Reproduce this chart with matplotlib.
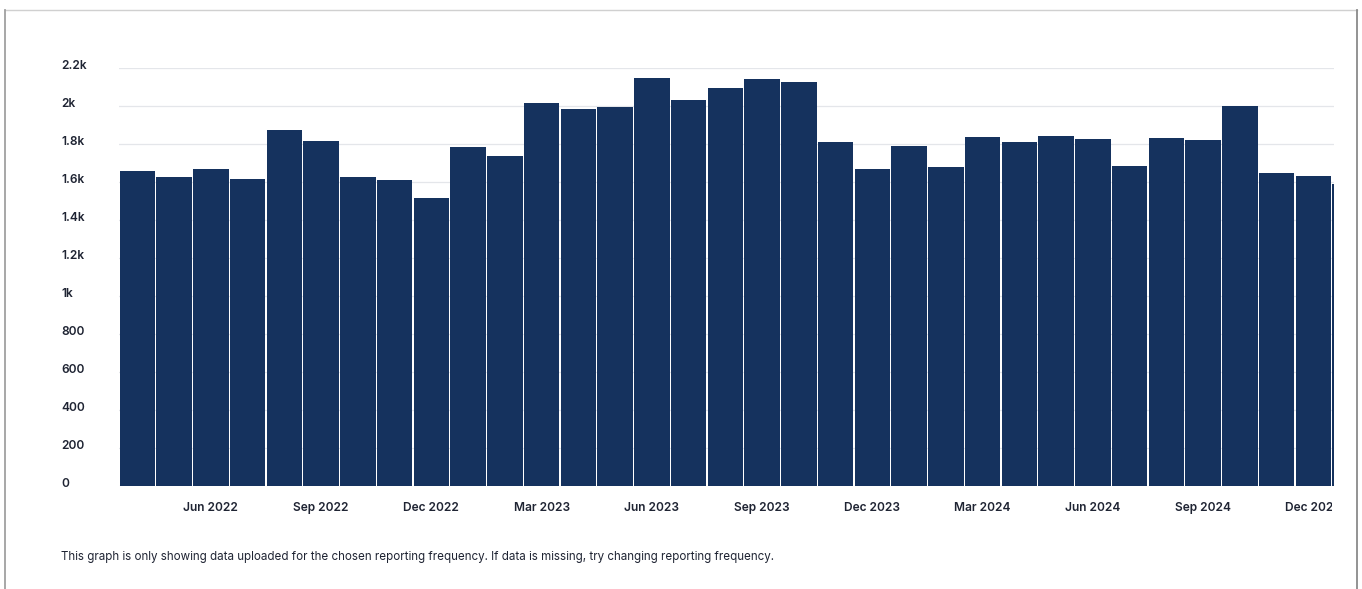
import matplotlib
matplotlib.use("Agg")
import matplotlib.pyplot as plt
from matplotlib.patches import Rectangle
from matplotlib.lines import Line2D
from matplotlib.transforms import Bbox, ScaledTranslation

plt.rcParams['font.family'] = ['Inter', 'DejaVu Sans']

months = ["Apr 2022", "May 2022", "Jun 2022", "Jul 2022", "Aug 2022", "Sep 2022",
          "Oct 2022", "Nov 2022", "Dec 2022", "Jan 2023", "Feb 2023", "Mar 2023",
          "Apr 2023", "May 2023", "Jun 2023", "Jul 2023", "Aug 2023", "Sep 2023",
          "Oct 2023", "Nov 2023", "Dec 2023", "Jan 2024", "Feb 2024", "Mar 2024",
          "Apr 2024", "May 2024", "Jun 2024", "Jul 2024", "Aug 2024", "Sep 2024",
          "Oct 2024", "Nov 2024", "Dec 2024", "Jan 2025"]
values = [1658, 1629, 1670, 1616, 1874, 1819, 1628, 1612, 1516, 1786, 1740, 2019,
          1987, 1998, 2151, 2032, 2096, 2145, 2129, 1814, 1670, 1791, 1679, 1837,
          1811, 1842, 1828, 1687, 1831, 1821, 2003, 1647, 1632, 1591]
tick_months = ["Jun 2022", "Sep 2022", "Dec 2022", "Mar 2023", "Jun 2023", "Sep 2023",
               "Dec 2023", "Mar 2024", "Jun 2024", "Sep 2024", "Dec 2024"]
y_ticks = [0, 200, 400, 600, 800, 1000, 1200, 1400, 1600, 1800, 2000, 2200]
y_labels = ["0", "200", "400", "600", "800", "1k", "1.2k", "1.4k", "1.6k", "1.8k", "2k", "2.2k"]

W, H = 1362, 589
fig = plt.figure(figsize=(W / 100, H / 100), dpi=100)
fig.patch.set_facecolor("white")

left_px, right_px, top_px, base_px = 119, 1334, 68.3, 485.8
ax = fig.add_axes([left_px / W, 1 - base_px / H, (right_px - left_px) / W, (base_px - top_px) / H])

bar_color = "#15325e"
x = list(range(len(values)))
ax.bar(x, values, width=0.97, color=bar_color, zorder=2)

ax.set_xlim(-0.5, 32.56)
ax.set_ylim(0, 2200)

ax.set_yticks(y_ticks)
ax.set_yticklabels(y_labels)
ax.set_xticks([months.index(m) for m in tick_months])
ax.set_xticklabels(tick_months)

ax.grid(axis="y", color="#e4e6ea", linewidth=0.9, zorder=0)
ax.grid(axis="x", visible=False)
for s in ax.spines.values():
    s.set_visible(False)

text_color = "#1f2433"
ax.tick_params(axis="y", length=0, pad=41.8, labelsize=8.6, labelcolor=text_color)
ax.tick_params(axis="x", length=0, pad=12, labelsize=8.6, labelcolor=text_color)
for lab in ax.get_yticklabels():
    lab.set_horizontalalignment("left")
    lab.set_fontweight("semibold")
    lab.set_transform(lab.get_transform() + ScaledTranslation(0, 3.5 / 100, fig.dpi_scale_trans))

clip = Bbox.from_extents(0, 0, 1332, H)
for lab in ax.get_xticklabels():
    lab.set_fontweight("semibold")
    lab.set_clip_on(True)
    lab.set_clip_box(clip)

fig.text(61 / W, 1 - 557 / H,
         "This graph is only showing data uploaded for the chosen reporting frequency. "
         "If data is missing, try changing reporting frequency.",
         fontsize=8.35, color=text_color, ha="left", va="center")

# card border: light top, grey sides
fig.lines.append(Line2D([5 / W, 1357 / W], [1 - 10 / H, 1 - 10 / H], transform=fig.transFigure,
                        color="#d0d0d0", linewidth=1.0))
fig.lines.append(Line2D([5 / W, 5 / W], [0, 1 - 10 / H], transform=fig.transFigure,
                        color="#a0a0a0", linewidth=1.3))
fig.lines.append(Line2D([1357 / W, 1357 / W], [0, 1 - 10 / H], transform=fig.transFigure,
                        color="#8a8a8a", linewidth=1.3))

fig.savefig("out.png", dpi=100, facecolor="white")
